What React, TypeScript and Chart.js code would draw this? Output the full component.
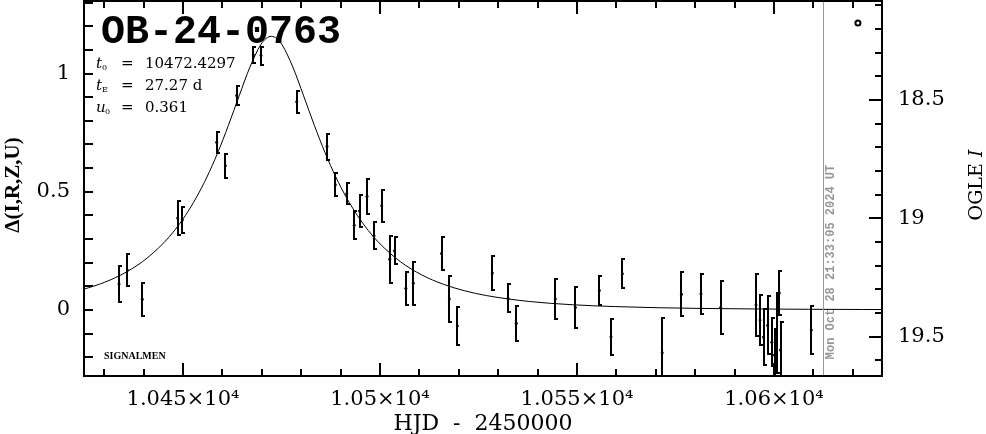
import React, { useEffect, useRef } from 'react';
import { Chart, registerables } from 'chart.js';

Chart.register(...registerables);

const EVENT_NAME = 'OB-24-0763';
const T0 = '10472.4297';
const TE = '27.27';
const U0 = '0.361';
const NOW_HJD = 10612.4;
const NOW_LABEL = 'Mon Oct 28 21:33:05 2024 UT';
const SOURCE_LABEL = 'SIGNALMEN';

const obsHJD = [
  10433.76, 10435.86, 10439.67, 10448.65, 10449.82, 10458.55, 10460.74, 10463.63,
  10467.84, 10469.8, 10478.86, 10486.55, 10488.65, 10491.55, 10493.45, 10494.8,
  10496.7, 10498.48, 10500.43, 10502.46, 10503.68, 10506.55, 10508.45, 10515.61,
  10517.59, 10519.62, 10528.5, 10532.49, 10534.59, 10544.49, 10549.57, 10555.66,
  10558.63, 10561.5, 10571.62, 10576.52, 10581.47, 10586.47, 10595.43, 10596.45,
  10597.34, 10598.4, 10599.44, 10600.13, 10600.69, 10601.35, 10601.65, 10609.47,
];
const obsDelta = [
  0.11, 0.169, 0.045, 0.389, 0.381, 0.709, 0.61, 0.907,
  1.078, 1.076, 0.881, 0.691, 0.53, 0.492, 0.358, 0.419,
  0.481, 0.314, 0.441, 0.215, 0.25, 0.092, 0.113, 0.239,
  0.047, -0.068, 0.156, 0.05, -0.056, 0.047, 0.011, 0.082,
  -0.113, 0.153, -0.181, 0.067, 0.068, 0.011, 0.021, -0.042,
  -0.114, -0.064, -0.136, -0.19, -0.097, 0.072, -0.169, -0.085,
];
const obsErr = [
  0.076, 0.068, 0.071, 0.073, 0.056, 0.044, 0.051, 0.04,
  0.032, 0.038, 0.047, 0.055, 0.048, 0.044, 0.059, 0.067,
  0.074, 0.057, 0.067, 0.099, 0.057, 0.069, 0.091, 0.071,
  0.097, 0.08, 0.073, 0.059, 0.073, 0.085, 0.088, 0.062,
  0.076, 0.061, 0.146, 0.094, 0.085, 0.113, 0.133, 0.107,
  0.117, 0.122, 0.102, 0.109, 0.169, 0.093, 0.119, 0.1,
];

const modelHJD = [
  10423.34, 10428.8, 10434.25, 10439.71, 10445.16, 10447.89, 10450.61, 10453.34,
  10456.07, 10458.8, 10461.52, 10464.25, 10466.98, 10469.7, 10471.07, 10472.43,
  10473.79, 10475.16, 10477.88, 10480.61, 10483.34, 10486.07, 10488.79, 10491.52,
  10494.25, 10496.97, 10499.7, 10505.15, 10510.61, 10516.06, 10521.52, 10526.97,
  10537.88, 10548.79, 10559.69, 10570.6, 10581.51, 10595.15, 10608.78, 10622.42, 10636.05,
];
const modelDelta = [
  0.081, 0.109, 0.1483, 0.2044, 0.2848, 0.3372, 0.3998, 0.4743,
  0.5622, 0.6646, 0.7806, 0.9056, 1.0271, 1.1211, 1.1481, 1.1574,
  1.1481, 1.1211, 1.0271, 0.9056, 0.7806, 0.6646, 0.5622, 0.4743,
  0.3998, 0.3372, 0.2848, 0.2044, 0.1483, 0.109, 0.081, 0.0611,
  0.036, 0.0223, 0.0144, 0.0096, 0.0066, 0.0044, 0.003, 0.0021, 0.0015,
];

const markerHJD = [10621.3];
const markerDelta = [1.2135];

const xTickValues = [10450, 10500, 10550, 10600];
const xTickLabels = ['1.045×10⁴', '1.05×10⁴', '1.055×10⁴', '1.06×10⁴'];
const yTickValues = [0, 0.5, 1];
const yTickLabels = ['0', '0.5', '1'];
const magTickValues = [18.5, 19, 19.5];
const magTickLabels = ['18.5', '19', '19.5'];

const X_MIN = 10424.87;
const X_MAX = 10627.41;
const Y_MIN = -0.2791;
const Y_MAX = 1.3066;
const MAG_MIN = 18.0818;
const MAG_MAX = 19.666;

const TICK_FONT = { family: '"DejaVu Serif"', size: 21 };

const zeroPad = (s: any) => {
  s.paddingTop = 0;
  s.paddingBottom = 0;
  s.paddingLeft = 0;
  s.paddingRight = 0;
};

const overlayPlugin = {
  id: 'overlay',
  afterDatasetsDraw(chart: any) {
    const ctx = chart.ctx;
    const xs = chart.scales.x;
    const ys = chart.scales.y;
    const a = chart.chartArea;
    ctx.save();
    ctx.beginPath();
    ctx.rect(a.left, a.top, a.right - a.left, a.bottom - a.top);
    ctx.clip();
    const nx = Math.round(xs.getPixelForValue(NOW_HJD)) + 0.5;
    ctx.strokeStyle = '#999999';
    ctx.lineWidth = 1;
    ctx.beginPath();
    ctx.moveTo(nx, a.top);
    ctx.lineTo(nx, a.bottom);
    ctx.stroke();
    ctx.strokeStyle = '#000';
    ctx.lineWidth = 2;
    for (let i = 0; i < obsHJD.length; i++) {
      const px = Math.round(xs.getPixelForValue(obsHJD[i]));
      const top = Math.round(ys.getPixelForValue(obsDelta[i] + obsErr[i]));
      const bot = Math.round(ys.getPixelForValue(obsDelta[i] - obsErr[i]));
      ctx.beginPath();
      ctx.moveTo(px, top);
      ctx.lineTo(px, bot);
      ctx.moveTo(px - 1, top);
      ctx.lineTo(px + 3, top);
      ctx.moveTo(px - 1, bot);
      ctx.lineTo(px + 3, bot);
      ctx.stroke();
    }
    ctx.restore();
  },
  afterDraw(chart: any) {
    const ctx = chart.ctx;
    const xs = chart.scales.x;
    const ys = chart.scales.y;
    const ms = chart.scales.y2;
    const a = chart.chartArea;
    ctx.save();
    ctx.strokeStyle = '#000';
    ctx.lineWidth = 2;
    ctx.strokeRect(a.left, a.top, a.right - a.left, a.bottom - a.top);
    ctx.beginPath();
    for (let k = 1043; k <= 1062; k++) {
      const px = Math.round(xs.getPixelForValue(k * 10));
      const len = k % 5 === 0 ? 13 : 7;
      ctx.moveTo(px, a.bottom);
      ctx.lineTo(px, a.bottom - len);
      ctx.moveTo(px, a.top);
      ctx.lineTo(px, a.top + len);
    }
    for (let k = -2; k <= 13; k++) {
      const py = Math.round(ys.getPixelForValue(k / 10));
      ctx.moveTo(a.left, py);
      ctx.lineTo(a.left + 9, py);
    }
    for (let k = 181; k <= 196; k++) {
      const py = Math.round(ms.getPixelForValue(k / 10));
      const len = k % 5 === 0 ? 13 : 7;
      ctx.moveTo(a.right, py);
      ctx.lineTo(a.right - len, py);
    }
    ctx.stroke();

    ctx.fillStyle = '#000';
    ctx.textBaseline = 'alphabetic';
    ctx.textAlign = 'left';
    ctx.font = 'bold 40px "Liberation Mono"';
    ctx.fillText(EVENT_NAME, 101, 43);

    const lines = [
      { sym: 't', sub: '0', val: T0, y: 68 },
      { sym: 't', sub: 'E', val: TE + ' d', y: 90 },
      { sym: 'u', sub: '0', val: U0, y: 112 },
    ];
    for (const l of lines) {
      ctx.font = 'italic 15px "DejaVu Serif"';
      ctx.fillText(l.sym, 96, l.y);
      ctx.font = '8px "DejaVu Serif"';
      ctx.fillText(l.sub, l.sym === 'u' ? 105 : 102, l.y + 2);
      ctx.font = '15px "DejaVu Serif"';
      ctx.fillText('=', 121, l.y);
      ctx.fillText(l.val, 145, l.y);
    }
    ctx.font = 'bold 10px "Liberation Serif"';
    ctx.fillText(SOURCE_LABEL, 104, 359);

    const nx = xs.getPixelForValue(NOW_HJD);
    ctx.save();
    ctx.translate(nx + 8, 262);
    ctx.rotate(-Math.PI / 2);
    ctx.font = 'bold 12px "Liberation Mono"';
    ctx.textAlign = 'center';
    ctx.textBaseline = 'middle';
    ctx.fillStyle = '#969696';
    ctx.fillText(NOW_LABEL, 0, 0);
    ctx.restore();

    ctx.textAlign = 'center';
    ctx.textBaseline = 'middle';
    ctx.font = '22px "DejaVu Serif"';
    ctx.fillText('HJD  -  2450000', (a.left + a.right) / 2, 424);

    ctx.save();
    ctx.translate(14, 185);
    ctx.rotate(-Math.PI / 2);
    ctx.font = 'bold 21px "Liberation Serif"';
    ctx.fillText('Δ(I,R,Z,U)', 0, 0);
    ctx.restore();

    ctx.save();
    ctx.translate(977, 185);
    ctx.rotate(-Math.PI / 2);
    ctx.textAlign = 'left';
    ctx.font = '19px "DejaVu Serif"';
    const w1 = ctx.measureText('OGLE ').width;
    ctx.font = 'italic 19px "DejaVu Serif"';
    const w2 = ctx.measureText('I').width;
    const start = -(w1 + w2) / 2;
    ctx.font = '19px "DejaVu Serif"';
    ctx.fillText('OGLE ', start, 0);
    ctx.font = 'italic 19px "DejaVu Serif"';
    ctx.fillText('I', start + w1, 0);
    ctx.restore();

    ctx.restore();
  },
};

export default function App() {
  const canvasRef = useRef<HTMLCanvasElement | null>(null);

  useEffect(() => {
    if (!canvasRef.current) return;
    const chart = new Chart(canvasRef.current, {
      type: 'scatter',
      data: {
        datasets: [
          {
            label: 'model',
            data: modelHJD.map((t, i) => ({ x: t, y: modelDelta[i] })),
            showLine: true,
            borderColor: '#000',
            borderWidth: 1,
            pointRadius: 0,
            cubicInterpolationMode: 'monotone',
            xAxisID: 'x',
            yAxisID: 'y',
          } as any,
          {
            label: 'data',
            data: obsHJD.map((t, i) => ({ x: t, y: obsDelta[i] })),
            showLine: false,
            pointRadius: 1.5,
            pointBackgroundColor: '#000',
            pointBorderColor: '#000',
            pointBorderWidth: 0,
            xAxisID: 'x',
            yAxisID: 'y',
          },
          {
            label: 'marker',
            data: markerHJD.map((t, i) => ({ x: t, y: markerDelta[i] })),
            showLine: false,
            pointRadius: 2.5,
            pointBackgroundColor: '#fff',
            pointBorderColor: '#000',
            pointBorderWidth: 2,
            xAxisID: 'x',
            yAxisID: 'y',
          },
        ],
      },
      options: {
        animation: false,
        responsive: false,
        devicePixelRatio: 1,
        layout: { autoPadding: false, padding: { top: 1, left: 0, right: 0, bottom: 0 } },
        plugins: {
          legend: { display: false },
          tooltip: { enabled: false },
          title: { display: false },
        },
        scales: {
          x: {
            type: 'linear',
            position: 'bottom',
            min: X_MIN,
            max: X_MAX,
            grid: { display: false, drawTicks: false },
            border: { display: false },
            ticks: {
              font: TICK_FONT,
              color: '#000',
              padding: 11,
              maxRotation: 0,
              autoSkip: false,
              callback: (_v: any, i: number) => xTickLabels[i],
            },
            afterBuildTicks: (s: any) => {
              s.ticks = xTickValues.map((v) => ({ value: v }));
            },
            afterFit: (s: any) => {
              s.height = 58;
              zeroPad(s);
            },
          },
          y: {
            type: 'linear',
            position: 'left',
            min: Y_MIN,
            max: Y_MAX,
            grid: { display: false, drawTicks: false },
            border: { display: false },
            ticks: {
              font: TICK_FONT,
              color: '#000',
              padding: 14,
              autoSkip: false,
              callback: (_v: any, i: number) => yTickLabels[i],
            },
            afterBuildTicks: (s: any) => {
              s.ticks = yTickValues.map((v) => ({ value: v }));
            },
            afterFit: (s: any) => {
              s.width = 84;
              zeroPad(s);
            },
          },
          y2: {
            type: 'linear',
            position: 'right',
            reverse: true,
            min: MAG_MIN,
            max: MAG_MAX,
            grid: { display: false, drawTicks: false },
            border: { display: false },
            ticks: {
              font: TICK_FONT,
              color: '#000',
              padding: 16,
              autoSkip: false,
              callback: (_v: any, i: number) => magTickLabels[i],
            },
            afterBuildTicks: (s: any) => {
              s.ticks = magTickValues.map((v) => ({ value: v }));
            },
            afterFit: (s: any) => {
              s.width = 104;
              zeroPad(s);
            },
          },
        },
      } as any,
      plugins: [overlayPlugin],
    });
    return () => chart.destroy();
  }, []);

  return (
    <div style={{ position: 'absolute', left: 0, top: 0, width: 986, height: 434, background: '#fff' }}>
      <canvas ref={canvasRef} width={986} height={434} style={{ display: 'block' }} />
    </div>
  );
}
